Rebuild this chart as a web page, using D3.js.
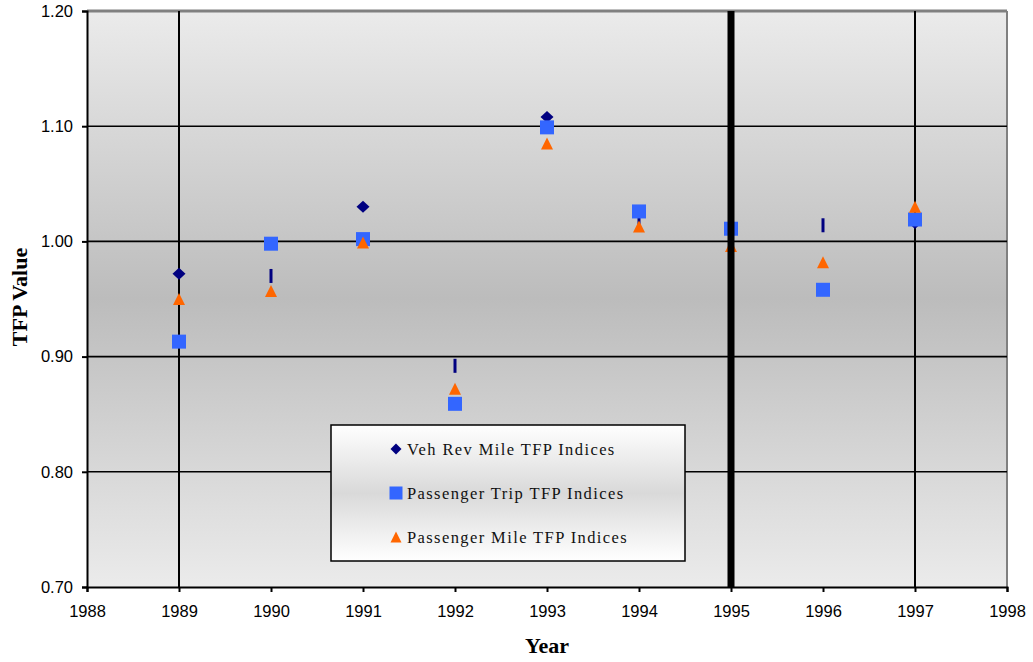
<!DOCTYPE html>
<html>
<head>
<meta charset="utf-8">
<script src="https://cdn.jsdelivr.net/npm/d3@7/dist/d3.min.js"></script>
<style>
  body { margin: 0; background: #ffffff; }
  svg { display: block; }
</style>
</head>
<body>
<svg id="chart" width="1033" height="662"></svg>
<script>
// TFP index values by year
const years = [1989, 1990, 1991, 1992, 1993, 1994, 1995, 1996, 1997];
const vehRevMile = [0.972, 0.970, 1.030, 0.892, 1.108, 1.020, 1.010, 1.014, 1.016];
const passengerTrip = [0.913, 0.998, 1.002, 0.859, 1.099, 1.026, 1.011, 0.958, 1.019];
const passengerMile = [0.950, 0.957, 0.999, 0.872, 1.085, 1.013, 0.996, 0.982, 1.030];

const xTicks = [1988, 1989, 1990, 1991, 1992, 1993, 1994, 1995, 1996, 1997, 1998];
const yTicks = [0.70, 0.80, 0.90, 1.00, 1.10, 1.20];
const seriesNames = ["Veh Rev Mile TFP Indices", "Passenger Trip TFP Indices", "Passenger Mile TFP Indices"];

// Years whose diamond markers render as narrow slivers
const slimDiamondYears = [1990, 1992, 1994, 1996];
// Vertical reference lines
const thinRefYears = [1989, 1997];
const thickRefYears = [1995];

const svg = d3.select("#chart");
const m = { left: 87, right: 1007, top: 11, bottom: 587 };

const x = d3.scaleLinear().domain([1988, 1998]).range([m.left, m.right]);
const y = d3.scaleLinear().domain([0.70, 1.20]).range([m.bottom, m.top]);

const defs = svg.append("defs");
const bg = defs.append("linearGradient").attr("id", "plotBg")
  .attr("x1", 0).attr("y1", 0).attr("x2", 0).attr("y2", 1);
bg.append("stop").attr("offset", "0%").attr("stop-color", "#ebebeb");
bg.append("stop").attr("offset", "50%").attr("stop-color", "#bcbcbc");
bg.append("stop").attr("offset", "100%").attr("stop-color", "#ebebeb");

const lg = defs.append("linearGradient").attr("id", "legendBg")
  .attr("x1", 0).attr("y1", 0).attr("x2", 0).attr("y2", 1);
lg.append("stop").attr("offset", "0%").attr("stop-color", "#ffffff");
lg.append("stop").attr("offset", "50%").attr("stop-color", "#d9d9d9");
lg.append("stop").attr("offset", "100%").attr("stop-color", "#ffffff");

// plot background
svg.append("rect")
  .attr("x", m.left).attr("y", m.top)
  .attr("width", m.right - m.left).attr("height", m.bottom - m.top)
  .attr("fill", "url(#plotBg)");

// frame top/right
svg.append("line").attr("x1", m.left).attr("x2", m.right)
  .attr("y1", m.top).attr("y2", m.top)
  .attr("stroke", "#808080").attr("stroke-width", 3);
svg.append("line").attr("x1", m.right).attr("x2", m.right)
  .attr("y1", m.top).attr("y2", m.bottom)
  .attr("stroke", "#808080").attr("stroke-width", 2);

// horizontal gridlines
svg.append("g").selectAll("line")
  .data(yTicks.filter(v => v > 0.70 && v < 1.20))
  .join("line")
  .attr("x1", m.left).attr("x2", m.right)
  .attr("y1", d => y(d)).attr("y2", d => y(d))
  .attr("stroke", "#000").attr("stroke-width", 1.6);

// thin vertical reference lines
svg.append("g").selectAll("line")
  .data(thinRefYears)
  .join("line")
  .attr("x1", d => x(d)).attr("x2", d => x(d))
  .attr("y1", m.top).attr("y2", m.bottom)
  .attr("stroke", "#000")
  .attr("stroke-width", 2);

// axes
const yAxis = d3.axisLeft(y).tickValues(yTicks).tickFormat(d3.format(".2f")).tickSize(5).tickPadding(9);
const xAxis = d3.axisBottom(x).tickValues(xTicks).tickFormat(d3.format("d")).tickSize(5).tickPadding(13);

const gy = svg.append("g").attr("transform", `translate(${m.left},0)`).call(yAxis);
const gx = svg.append("g").attr("transform", `translate(0,${m.bottom})`).call(xAxis);
[gy, gx].forEach(g => {
  g.select(".domain").attr("stroke", "#000").attr("stroke-width", 2);
  g.selectAll(".tick line").attr("stroke", "#000").attr("stroke-width", 2);
  g.selectAll(".tick text")
    .attr("fill", "#000")
    .style("font-family", "'Liberation Sans', Arial, sans-serif")
    .style("font-size", "16.5px");
});

// axis titles
svg.append("text")
  .attr("x", (m.left + m.right) / 2).attr("y", 653)
  .attr("text-anchor", "middle")
  .style("font-family", "'Liberation Serif', 'Times New Roman', serif")
  .style("font-weight", "bold").style("font-size", "22px")
  .text("Year");
svg.append("text")
  .attr("transform", `translate(27,${(m.top + m.bottom) / 2 - 2}) rotate(-90)`)
  .attr("text-anchor", "middle")
  .style("font-family", "'Liberation Serif', 'Times New Roman', serif")
  .style("font-weight", "bold").style("font-size", "22px")
  .text("TFP Value");

// marker shapes
const colors = ["#000080", "#3366ff", "#ff6600"];
const diamondPath = (w, h) => `M0,${-h}L${w},0L0,${h}L${-w},0Z`;
const slimPath = (w, h) => `M${-w},${-h}H${w}V${h}H${-w}Z`;
const squarePath = s => `M${-s},${-s}H${s}V${s}H${-s}Z`;
const trianglePath = s => `M0,${-s}L${s},${s}L${-s},${s}Z`;

// Veh Rev Mile (diamonds)
svg.append("g").selectAll("path")
  .data(years.map((yr, i) => ({ yr, v: vehRevMile[i] })))
  .join("path")
  .attr("transform", d => `translate(${x(d.yr)},${y(d.v)})`)
  .attr("d", d => slimDiamondYears.includes(d.yr) ? slimPath(1.5, 7) : diamondPath(6.5, 6))
  .attr("fill", colors[0]);

// Passenger Trip (squares)
svg.append("g").selectAll("path")
  .data(years.map((yr, i) => ({ yr, v: passengerTrip[i] })))
  .join("path")
  .attr("transform", d => `translate(${x(d.yr)},${y(d.v)})`)
  .attr("d", squarePath(7))
  .attr("fill", colors[1]);

// Passenger Mile (triangles)
svg.append("g").selectAll("path")
  .data(years.map((yr, i) => ({ yr, v: passengerMile[i] })))
  .join("path")
  .attr("transform", d => `translate(${x(d.yr)},${y(d.v)})`)
  .attr("d", trianglePath(6))
  .attr("fill", colors[2]);

// thick reference line drawn over the markers
svg.append("g").selectAll("line")
  .data(thickRefYears)
  .join("line")
  .attr("x1", d => x(d)).attr("x2", d => x(d))
  .attr("y1", m.top).attr("y2", m.bottom)
  .attr("stroke", "#000")
  .attr("stroke-width", 7);

// legend
const legend = svg.append("g");
legend.append("rect")
  .attr("x", 331).attr("y", 425).attr("width", 354).attr("height", 136)
  .attr("fill", "url(#legendBg)")
  .attr("stroke", "#000").attr("stroke-width", 1.5);
const legendShapes = [diamondPath(5.5, 5.5), squarePath(6.5), trianglePath(5.5)];
const legendY = [449, 493, 537];
seriesNames.forEach((name, i) => {
  legend.append("path")
    .attr("transform", `translate(396,${legendY[i]})`)
    .attr("d", legendShapes[i])
    .attr("fill", colors[i]);
  legend.append("text")
    .attr("x", 407).attr("y", legendY[i] + 5.5)
    .style("font-family", "'Liberation Serif', 'Times New Roman', serif")
    .style("font-size", "16.5px")
    .style("letter-spacing", "1.4px")
    .attr("fill", "#111")
    .text(name);
});
</script>
</body>
</html>
